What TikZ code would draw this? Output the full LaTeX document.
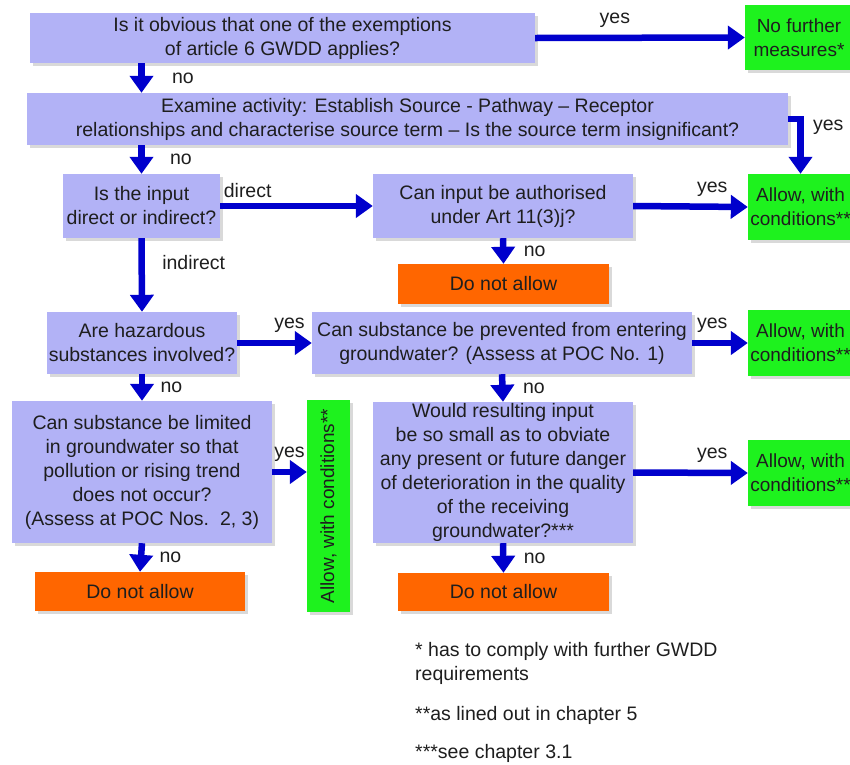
\documentclass[tikz,border=0pt]{standalone}
\usepackage{fontspec}
\setmainfont{Liberation Sans}
\usetikzlibrary{arrows.meta,shadows}
\definecolor{boxblue}{RGB}{178,178,246}
\definecolor{okgreen}{RGB}{30,242,30}
\definecolor{nogo}{RGB}{255,102,0}
\definecolor{flow}{RGB}{0,0,204}
\definecolor{ink}{RGB}{30,30,30}

\begin{document}
\begin{tikzpicture}[x=1pt,y=-1pt,
	every node/.style={font=\fontsize{19.5}{24}\selectfont, text=ink},
	boxshadow/.style={drop shadow={shadow xshift=2.5pt,shadow yshift=-2.5pt,opacity=0.3}},
	question/.style={fill=boxblue, align=center, inner sep=0pt, boxshadow},
	allow/.style={fill=okgreen, align=center, inner sep=0pt, font=\fontsize{19}{24}\selectfont, boxshadow},
	deny/.style={fill=nogo, align=center, inner sep=0pt, boxshadow},
	flowarrow/.style={draw=flow, line width=6.5pt, -{Triangle[length=17pt,width=23pt]}}]
	\useasboundingbox (0,0) rectangle (850,764);
	\clip (0,0) rectangle (850,764);

	\node[question, minimum width=505, minimum height=50] (q1) at (282.5,38) {Is it obvious that one of the exemptions\\of article 6 GWDD applies?};
	\node[allow, minimum width=108, minimum height=65] (nofurther) at (799,37.5) {No further\\measures*};
	\node[question, minimum width=761, minimum height=52] (exam) at (407.5,119) {Examine activity: Establish Source - Pathway -- Receptor\\relationships and characterise source term -- Is the source term insignificant?};
	\node[question, minimum width=157, minimum height=64] (q2) at (141.5,206) {Is the input\\direct or indirect?};
	\node[question, minimum width=260, minimum height=64] (q3) at (503,206) {Can input be authorised\\under Art 11(3)j?};
	\node[allow, minimum width=105, minimum height=66] (allow1) at (800.5,207) {Allow, with\\conditions**};
	\node[deny, minimum width=211, minimum height=40] (deny1) at (503.5,284) {Do not allow};
	\node[question, minimum width=190, minimum height=62] (q4) at (142,343) {Are hazardous\\substances involved?};
	\node[question, minimum width=380, minimum height=62] (q5) at (502,343) {Can substance be prevented from entering\\groundwater? (Assess at POC No. 1)};
	\node[allow, minimum width=105, minimum height=66] (allow2) at (800.5,343) {Allow, with\\conditions**};
	\node[question, minimum width=260, minimum height=142] (q6) at (142,472) {Can substance be limited\\in groundwater so that\\pollution or rising trend\\does not occur?\\(Assess at POC Nos.~~2, 3)};
	\node[allow, rotate=90, minimum width=212, minimum height=43] (allow4) at (328.5,506) {Allow, with conditions**};
	\node[deny, minimum width=210, minimum height=39] (deny2) at (140,591.5) {Do not allow};
	\node[question, minimum width=260, minimum height=141] (q7) at (503,472.5) {Would resulting input\\be so small as to obviate\\any present or future danger\\of deterioration in the quality\\of the receiving\\groundwater?***};
	\node[allow, minimum width=105, minimum height=66] (allow3) at (800.5,473) {Allow, with\\conditions**};
	\node[deny, minimum width=211, minimum height=38] (deny3) at (503.5,592) {Do not allow};
	\node[anchor=north west, align=left, inner sep=0pt] (notes) at (415,642) {* has to comply with further GWDD\\requirements\\[16pt]**as lined out in chapter 5\\[14pt]***see chapter 3.1};

	\draw[flowarrow] (q1.east) -- node[pos=0.38, anchor=south, yshift=4pt] {yes} (nofurther.west);
	\draw[flowarrow] (q1.south -| q2) -- node[midway, anchor=west, xshift=24pt] {no} (exam.north -| q2);
	\draw[flowarrow] (exam.east) -| node[pos=0.58, anchor=west, xshift=6pt] {yes} (allow1.north);
	\draw[flowarrow] (exam.south -| q2) -- node[midway, anchor=west, xshift=22pt] {no} (q2.north);
	\draw[flowarrow] (q2.east) -- node[pos=0.18, anchor=south, yshift=2pt] {direct} (q3.west);
	\draw[flowarrow] (q3.east) -- node[pos=0.69, anchor=south, yshift=4pt] {yes} (allow1.west);
	\draw[flowarrow] (q3.south) -- node[midway, anchor=west, xshift=14pt] {no} (deny1.north);
	\draw[flowarrow] (q2.south) -- node[pos=0.33, anchor=west, xshift=14pt] {indirect} (q4.north);
	\draw[flowarrow] (q4.east) -- node[pos=0.7, anchor=south, yshift=4pt] {yes} (q5.west);
	\draw[flowarrow] (q5.east) -- node[pos=0.36, anchor=south, yshift=4pt] {yes} (allow2.west);
	\draw[flowarrow] (q4.south) -- node[midway, anchor=west, xshift=12pt] {no} (q6.north);
	\draw[flowarrow] (q6.east) -- node[midway, anchor=south, yshift=4pt] {yes} (q6.east -| allow4.north);
	\draw[flowarrow] (q6.south) -- node[midway, anchor=west, xshift=12pt] {no} (deny2.north);
	\draw[flowarrow] (q5.south) -- node[midway, anchor=west, xshift=14pt] {no} (q7.north);
	\draw[flowarrow] (q7.east) -- node[pos=0.69, anchor=south, yshift=4pt] {yes} (allow3.west);
	\draw[flowarrow] (q7.south) -- node[midway, anchor=west, xshift=14pt] {no} (deny3.north);
\end{tikzpicture}
\end{document}
